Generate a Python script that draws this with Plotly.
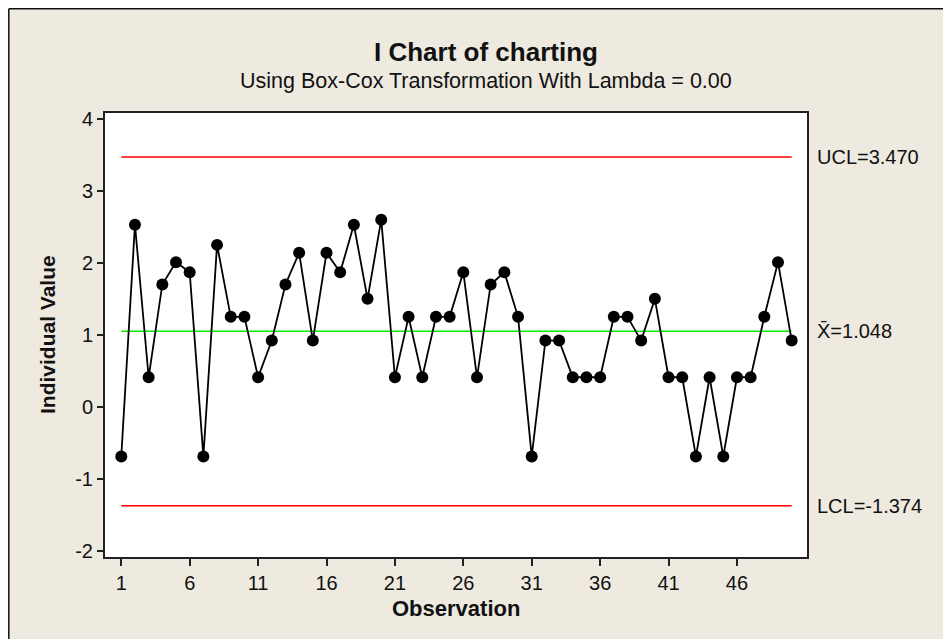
import plotly.graph_objects as go

# ---- data (Box-Cox transformed individual values, lambda = 0) ----
observation = list(range(1, 51))
individual_value = [
    -0.69, 2.53, 0.41, 1.70, 2.01, 1.87, -0.69, 2.25, 1.25, 1.25,
    0.41, 0.92, 1.70, 2.14, 0.92, 2.14, 1.87, 2.53, 1.50, 2.60,
    0.41, 1.25, 0.41, 1.25, 1.25, 1.87, 0.41, 1.70, 1.87, 1.25,
    -0.69, 0.92, 0.92, 0.41, 0.41, 0.41, 1.25, 1.25, 0.92, 1.50,
    0.41, 0.41, -0.69, 0.41, -0.69, 0.41, 0.41, 1.25, 2.01, 0.92,
]
ucl = 3.470
center = 1.048
lcl = -1.374
x_ticks = [1, 6, 11, 16, 21, 26, 31, 36, 41, 46]
y_ticks = [-2, -1, 0, 1, 2, 3, 4]

FONT = "Liberation Sans, Arial, sans-serif"
BG = "#EEEAE0"

# plot-area geometry (figure pixels)
L, R, T, B = 97, 144, 105, 82
W, H = 943, 631
PW, PH = W - L - R, H - T - B


def px(xpix):
    return (xpix - L) / PW


def py(ypix):
    return 1 - (ypix - T) / PH


fig = go.Figure()

x_first, x_last = observation[0], observation[-1]
fig.add_trace(go.Scatter(x=[x_first, x_last], y=[ucl, ucl], mode="lines",
                         line=dict(color="#FF0000", width=1.5), hoverinfo="skip"))
fig.add_trace(go.Scatter(x=[x_first, x_last], y=[lcl, lcl], mode="lines",
                         line=dict(color="#FF0000", width=1.5), hoverinfo="skip"))
fig.add_trace(go.Scatter(x=[x_first, x_last], y=[center, center], mode="lines",
                         line=dict(color="#00F000", width=1.5), hoverinfo="skip"))
fig.add_trace(go.Scatter(x=observation, y=individual_value, mode="lines+markers",
                         line=dict(color="black", width=1.8),
                         marker=dict(color="black", size=12)))

label_font = dict(family=FONT, size=20, color="#111111")
lx = px(807)
fig.add_annotation(x=lx, y=ucl, xref="paper", yref="y", text="UCL=3.470",
                   showarrow=False, xanchor="left", yanchor="middle", font=label_font)
fig.add_annotation(x=lx, y=center, xref="paper", yref="y", text="X\u0304=1.048",
                   showarrow=False, xanchor="left", yanchor="middle", font=label_font)
fig.add_annotation(x=lx, y=lcl, xref="paper", yref="y", text="LCL=-1.374",
                   showarrow=False, xanchor="left", yanchor="middle", font=label_font)

# titles
fig.add_annotation(x=px(478), y=py(44), xref="paper", yref="paper",
                   text="<b>I Chart of charting</b>", showarrow=False,
                   xanchor="center", yanchor="middle",
                   font=dict(family=FONT, size=26, color="#111111"))
fig.add_annotation(x=px(478), y=py(73), xref="paper", yref="paper",
                   text="Using Box-Cox Transformation With Lambda = 0.00", showarrow=False,
                   xanchor="center", yanchor="middle",
                   font=dict(family=FONT, size=21.5, color="#111111"))
fig.add_annotation(x=px(448), y=py(600), xref="paper", yref="paper",
                   text="<b>Observation</b>", showarrow=False,
                   xanchor="center", yanchor="middle",
                   font=dict(family=FONT, size=22, color="#111111"))
fig.add_annotation(x=px(39), y=py(327), xref="paper", yref="paper",
                   text="<b>Individual Value</b>", showarrow=False, textangle=-90,
                   xanchor="center", yanchor="middle",
                   font=dict(family=FONT, size=21, color="#111111"))

# outer frame (left and top edges visible)
fig.add_shape(type="line", xref="paper", yref="paper",
              x0=px(0.8), x1=px(W + 10), y0=py(0.8), y1=py(0.8),
              line=dict(color="#111111", width=1.5))
fig.add_shape(type="line", xref="paper", yref="paper",
              x0=px(0.8), x1=px(0.8), y0=py(H + 10), y1=py(0.8),
              line=dict(color="#111111", width=1.5))

fig.update_layout(
    width=W, height=H,
    margin=dict(l=L, r=R, t=T, b=B),
    paper_bgcolor=BG, plot_bgcolor="white",
    showlegend=False,
    font=dict(family=FONT, size=20, color="#111111"),
)
fig.update_xaxes(range=[-0.19, 51.12], tickvals=x_ticks, ticktext=[str(v) for v in x_ticks],
                 showgrid=False, zeroline=False, showline=True, linecolor="#222222",
                 linewidth=2, mirror=True, ticks="outside", ticklen=7, tickwidth=1.5,
                 tickcolor="#222222", tickfont=dict(family=FONT, size=20, color="#111111"))
fig.update_yaxes(range=[-2.088, 4.083], tickvals=y_ticks, ticktext=[str(v) for v in y_ticks],
                 showgrid=False, zeroline=False, showline=True, linecolor="#222222",
                 linewidth=2, mirror=True, ticks="outside", ticklen=6, tickwidth=1.5,
                 tickcolor="#222222", tickfont=dict(family=FONT, size=20, color="#111111"))

fig.write_html("out.html")
